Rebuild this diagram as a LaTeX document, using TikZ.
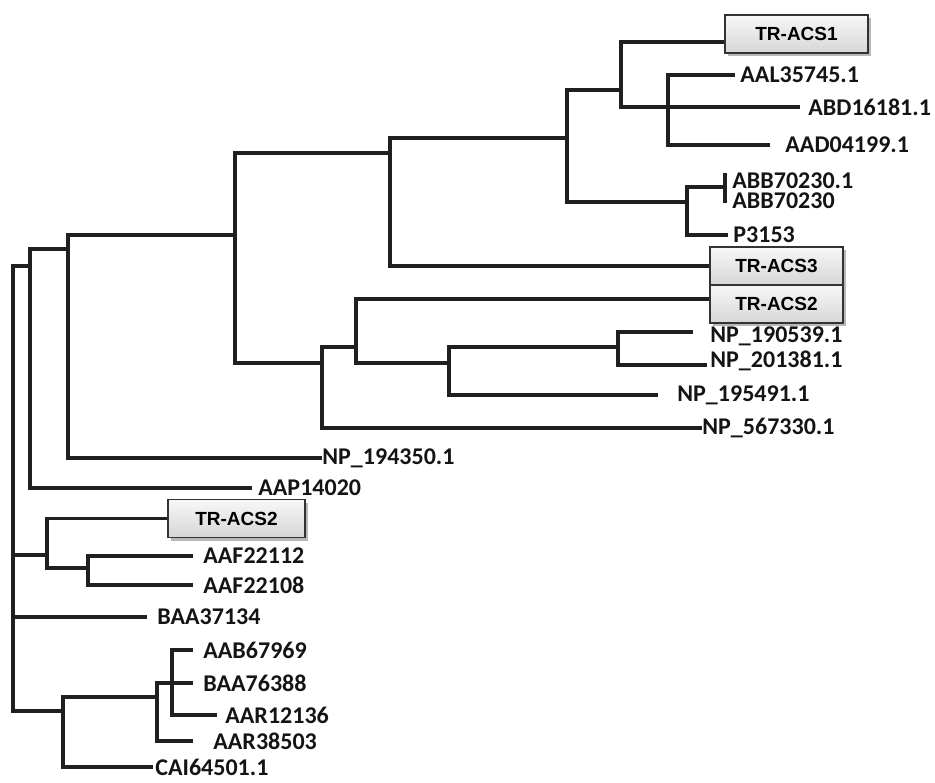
\documentclass[tikz,border=0pt]{standalone}
\usepackage{fontspec}
\setmainfont{Carlito}
\newfontfamily\boxfont{Liberation Sans}
\usetikzlibrary{shadows}

\begin{document}
\begin{tikzpicture}[
  x=0.5pt, y=-0.5pt,
  branch/.style={line width=1.6pt, draw=black!88},
  leaf/.style={anchor=west, inner xsep=#1, inner ysep=0pt, text=black!92,
    font=\bfseries\fontsize{12}{13}\selectfont},
  leaf/.default=0pt,
  acsbox/.style={draw=black!80, line width=0.8pt, top color=gray!6, bottom color=gray!32,
    minimum height=19pt, inner sep=0pt, font=\boxfont\bfseries\fontsize{9.5}{11}\selectfont,
    drop shadow={shadow xshift=1.5pt, shadow yshift=-1.5pt, opacity=0.55}}
]
\useasboundingbox (0,0) rectangle (935,782);

% Inner nodes of the tree
\coordinate (root) at (13,555);
\coordinate (n30) at (30,266);
\coordinate (n68) at (68,249);
\coordinate (n235) at (235,235);
\coordinate (n390) at (390,153);
\coordinate (n567) at (567,138);
\coordinate (n621) at (621,90);
\coordinate (n668) at (668,107);
\coordinate (n687) at (687,202);
\coordinate (n725) at (725,187);
\coordinate (n322) at (322,363);
\coordinate (n356) at (356,347);
\coordinate (n449) at (449,363);
\coordinate (n618) at (618,347);
\coordinate (n47) at (47,555);
\coordinate (n88) at (88,568);
\coordinate (n63) at (63,711);
\coordinate (n157) at (157,697);
\coordinate (n172) at (172,683);

% Boxed sequences
\node[acsbox, minimum width=71.5pt] (acs1) at (796.5,34) {TR-ACS1};
\node[acsbox, minimum width=66.5pt] (acs3) at (776.5,266) {TR-ACS3};
\node[acsbox, minimum width=66.5pt] (acs2) at (776.5,304) {TR-ACS2};
\node[acsbox, minimum width=68.5pt] (acs2b) at (236.5,518.5) {TR-ACS2};

% Leaves
\node[leaf=2.5pt] (aal) at (735,75) {AAL35745.1};
\node[leaf=4pt] (abd) at (800,107) {ABD16181.1};
\node[leaf=7.5pt] (aad) at (770,145) {AAD04199.1};
\node[leaf=3.5pt] (abb1) at (725,181) {ABB70230.1};
\node[leaf=3.5pt] (abb2) at (725,201) {ABB70230};
\node[leaf=2.5pt] (p3153) at (728,235) {P3153};
\node[leaf=8.5pt] (np190) at (693,336) {NP\_190539.1};
\node[leaf=1.5pt] (np201) at (707,361) {NP\_201381.1};
\node[leaf=9.5pt] (np195) at (658,395) {NP\_195491.1};
\node[leaf] (np567) at (702,428) {NP\_567330.1};
\node[leaf] (np194) at (322,458) {NP\_194350.1};
\node[leaf=3pt] (aap) at (252,488) {AAP14020};
\node[leaf=5pt] (aaf12) at (193,556) {AAF22112};
\node[leaf=5pt] (aaf08) at (193,585) {AAF22108};
\node[leaf=5pt] (baa37) at (147,617) {BAA37134};
\node[leaf=5pt] (aab) at (193,650) {AAB67969};
\node[leaf=5pt] (baa76) at (193,683) {BAA76388};
\node[leaf=4pt] (aar121) at (217,715) {AAR12136};
\node[leaf=10pt] (aar385) at (193,741) {AAR38503};
\node[leaf=1pt] (cai) at (153,767) {CAI64501.1};

% Branches
\draw[branch] (root) |- (n30);
\draw[branch] (root) |- (n47);
\draw[branch] (root) |- (baa37.west);
\draw[branch] (root) |- (n63);
\draw[branch] (n30) |- (n68);
\draw[branch] (n30) |- (aap.west);
\draw[branch] (n68) |- (n235);
\draw[branch] (n68) |- (np194.west);
\draw[branch] (n235) |- (n390);
\draw[branch] (n235) |- (n322);
\draw[branch] (n390) |- (n567);
\draw[branch] (n390) |- (acs3.west);
\draw[branch] (n567) |- (n621);
\draw[branch] (n567) |- (n687);
\draw[branch] (n621) |- ([yshift=-4pt]acs1.west);
\draw[branch] (n621) |- (n668);
\draw[branch] (n668) |- (aal.west);
\draw[branch] (n668) |- (abd.west);
\draw[branch] (n668) |- (aad.west);
\draw[branch] (n687) |- (n725);
\draw[branch] (n687) |- (p3153.west);
\draw[branch] ([yshift=4pt]abb1.west) -- ([yshift=-1pt]abb2.west);
\draw[branch] (n322) |- (n356);
\draw[branch] (n322) |- (np567.west);
\draw[branch] (n356) |- ([yshift=2.5pt]acs2.west);
\draw[branch] (n356) |- (n449);
\draw[branch] (n449) |- (n618);
\draw[branch] (n449) |- (np195.west);
\draw[branch] (n618) |- ([yshift=2pt]np190.west);
\draw[branch] (n618) |- ([yshift=-2pt]np201.west);
\draw[branch] (n47) |- (acs2b.west);
\draw[branch] (n47) |- (n88);
\draw[branch] (n88) |- (aaf12.west);
\draw[branch] (n88) |- (aaf08.west);
\draw[branch] (n63) |- (n157);
\draw[branch] (n63) |- (cai.west);
\draw[branch] (n157) |- (n172);
\draw[branch] (n157) |- (aar385.west);
\draw[branch] (n172) |- (aab.west);
\draw[branch] (n172) |- (baa76.west);
\draw[branch] (n172) |- (aar121.west);
\end{tikzpicture}
\end{document}
